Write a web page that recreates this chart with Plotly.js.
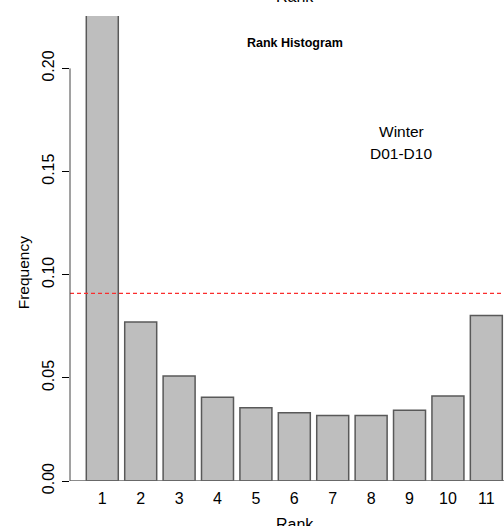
<!DOCTYPE html>
<html>
<head>
<meta charset="utf-8">
<script src="https://cdn.plot.ly/plotly-3.0.1.min.js"></script>
<style>html,body{margin:0;padding:0;background:#fff;overflow:hidden}</style>
</head>
<body>
<div id="chart" style="width:504px;height:526px"></div>
<script>
// Data
const ranks = [1, 2, 3, 4, 5, 6, 7, 8, 9, 10, 11];
const rankLabels = ['1', '2', '3', '4', '5', '6', '7', '8', '9', '10', '11'];
const frequency = [0.543, 0.0771, 0.0509, 0.0406, 0.0355, 0.0331, 0.0317, 0.0317, 0.0343, 0.0412, 0.0802];
const expectedFreq = [0.0909];
const yTickVals = [0.00, 0.05, 0.10, 0.15, 0.20];
const yTickText = ['0.00', '0.05', '0.10', '0.15', '0.20'];

const FONT = 'Liberation Sans, Arial, sans-serif';

const bars = {
  type: 'bar',
  x: ranks,
  y: frequency,
  width: 0.833,
  marker: { color: '#bebebe', line: { color: '#595959', width: 1.5 } },
  hoverinfo: 'none'
};

const refLine = {
  type: 'scatter',
  mode: 'lines',
  x: [0.159, 11.46],
  y: [expectedFreq[0], expectedFreq[0]],
  line: { color: 'rgb(250,45,45)', width: 1.3, dash: '4px,3px' },
  hoverinfo: 'none',
  cliponaxis: false
};

const layout = {
  width: 504,
  height: 526,
  margin: { l: 70, r: 0, t: 16, b: 45.3, pad: 0 },
  paper_bgcolor: '#ffffff',
  plot_bgcolor: '#ffffff',
  showlegend: false,
  font: { family: FONT, size: 16, color: '#000' },
  xaxis: {
    range: [0.159, 11.46],
    tickvals: ranks,
    ticktext: rankLabels,
    ticks: '',
    showgrid: false,
    zeroline: false,
    showline: false,
    ticklabelstandoff: 6,
    tickfont: { family: FONT, size: 16, color: '#000' },
    fixedrange: true
  },
  yaxis: {
    range: [0, 0.2254],
    tickvals: yTickVals,
    ticktext: yTickText,
    tickangle: -90,
    ticks: 'outside',
    ticklen: 7,
    tickwidth: 1,
    tickcolor: '#000',
    showgrid: false,
    zeroline: false,
    showline: false,
    ticklabelstandoff: 2,
    tickfont: { family: FONT, size: 16, color: '#000' },
    fixedrange: true
  },
  shapes: [
    { type: 'line', xref: 'paper', yref: 'y', x0: 0, x1: 0, y0: yTickVals[0], y1: yTickVals[yTickVals.length - 1],
      line: { color: '#444', width: 1 } },
    { type: 'line', xref: 'paper', yref: 'y', x0: 0, x1: 1, y0: 0, y1: 0,
      line: { color: '#666', width: 1.5 } }
  ],
  annotations: [
    { text: 'Rank', xref: 'paper', yref: 'paper', x: 0.518, y: 1.041, showarrow: false,
      xanchor: 'center', yanchor: 'middle', font: { family: FONT, size: 16, color: '#000' } },
    { text: '<b>Rank Histogram</b>', xref: 'paper', yref: 'paper', x: 0.518, y: 0.941, showarrow: false,
      xanchor: 'center', yanchor: 'middle', font: { family: FONT, size: 12.5, color: '#000' } },
    { text: 'Winter', xref: 'paper', yref: 'paper', x: 0.763, y: 0.751, showarrow: false,
      xanchor: 'center', yanchor: 'middle', font: { family: FONT, size: 15.5, color: '#000' } },
    { text: 'D01-D10', xref: 'paper', yref: 'paper', x: 0.763, y: 0.705, showarrow: false,
      xanchor: 'center', yanchor: 'middle', font: { family: FONT, size: 15.5, color: '#000' } },
    { text: 'Frequency', xref: 'paper', yref: 'paper', x: -0.108, y: 0.447, showarrow: false, textangle: -90,
      xanchor: 'center', yanchor: 'middle', font: { family: FONT, size: 15.5, color: '#000' } },
    { text: 'Rank', xref: 'paper', yref: 'paper', x: 0.518, y: -0.093, showarrow: false,
      xanchor: 'center', yanchor: 'middle', font: { family: FONT, size: 16, color: '#000' } }
  ]
};

Plotly.newPlot('chart', [bars, refLine], layout, { staticPlot: true, displayModeBar: false });
</script>
</body>
</html>
